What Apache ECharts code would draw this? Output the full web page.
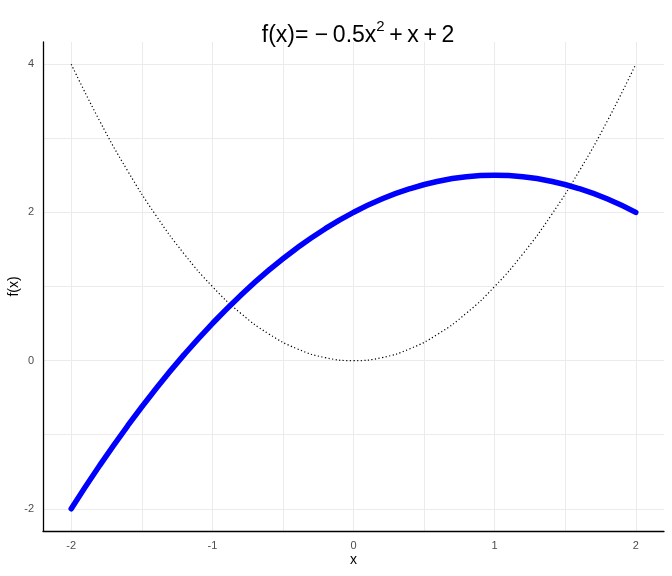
<!DOCTYPE html>
<html><head><meta charset="utf-8">
<script src="https://cdn.jsdelivr.net/npm/echarts@6/dist/echarts.min.js"></script>
<style>html,body{margin:0;padding:0;background:#fff}#c{width:672px;height:576px}</style>
</head><body><div id="c"></div>
<script>
var xValues = [-2,-1.8,-1.6,-1.4,-1.2,-1,-0.8,-0.6,-0.4,-0.2,0,0.2,0.4,0.6,0.8,1,1.2,1.4,1.6,1.8,2];
var fValues = [-2,-1.42,-0.88,-0.38,0.08,0.5,0.88,1.22,1.52,1.78,2,2.18,2.32,2.42,2.48,2.5,2.48,2.42,2.32,2.18,2];
var sqValues = [4,3.24,2.56,1.96,1.44,1,0.64,0.36,0.16,0.04,0,0.04,0.16,0.36,0.64,1,1.44,1.96,2.56,3.24,4];
var xTicks = [-2,-1,0,1,2];
var yTicks = [-2,0,2,4];
var xGrid = [-2,-1.5,-1,-0.5,0,0.5,1,1.5,2];
var yGrid = [-2,-1,0,1,2,3,4];

function pairs(xs, ys){ return xs.map(function(x,i){return [x, ys[i]];}); }
var font = 'Liberation Sans, Arial, sans-serif';
var gridLines = xGrid.map(function(v){return {xAxis:v};}).concat(yGrid.map(function(v){return {yAxis:v};}));
var chart = echarts.init(document.getElementById('c'), null, {renderer:'canvas'});
chart.setOption({
  animation:false,
  backgroundColor:'#fff',
  title:{
    text:'{n|f(x)= \u2212\u20090.5x}{s|2}{n|\u2009+\u2009x\u2009+\u20092}',
    left:353, top:14, textAlign:'center',
    textStyle:{rich:{
      n:{fontFamily:font,fontSize:23,fontWeight:'normal',color:'#000',verticalAlign:'bottom',lineHeight:28},
      s:{fontFamily:font,fontSize:15,fontWeight:'normal',color:'#000',verticalAlign:'top',lineHeight:28,padding:[0,0,16,0]}
    }}
  },
  grid:{left:43,right:8,top:42,bottom:45,outerBoundsMode:'none',containLabel:false},
  xAxis:{
    type:'value', min:-2.2, max:2.2,
    name:'x', nameLocation:'middle', nameGap:29, nameMoveOverlap:false,
    nameTextStyle:{fontFamily:font,fontSize:14,color:'#000',verticalAlign:'middle'},
    axisLine:{show:true,onZero:false,lineStyle:{color:'#000',width:1.3}},
    axisTick:{show:false},
    axisLabel:{fontFamily:font,fontSize:11,color:'#4d4d4d',margin:9,customValues:xTicks},
    splitLine:{show:false}
  },
  yAxis:{
    type:'value', min:-2.3, max:4.3,
    name:'f(x)', nameLocation:'middle', nameGap:29, nameRotate:90, nameMoveOverlap:false,
    nameTextStyle:{fontFamily:font,fontSize:14,color:'#000',verticalAlign:'middle'},
    axisLine:{show:true,onZero:false,lineStyle:{color:'#000',width:1.3}},
    axisTick:{show:false},
    axisLabel:{fontFamily:font,fontSize:11,color:'#4d4d4d',margin:9,customValues:yTicks},
    splitLine:{show:false}
  },
  series:[
    {type:'line', data:[], z:0, silent:true,
     markLine:{silent:true,symbol:'none',z:0,animation:false,label:{show:false},
      emphasis:{disabled:true},
      lineStyle:{color:'#ebebeb',width:1,type:'solid'},
      data:gridLines}},
    {type:'line', data:pairs(xValues,sqValues), smooth:true, showSymbol:false,
     lineStyle:{color:'#000',width:1.2,type:[1.2,2.4]}, z:2},
    {type:'line', data:pairs(xValues,fValues), smooth:true, showSymbol:false,
     lineStyle:{color:'#0000ff',width:5.5,cap:'round'}, z:3}
  ]
});
</script></body></html>
